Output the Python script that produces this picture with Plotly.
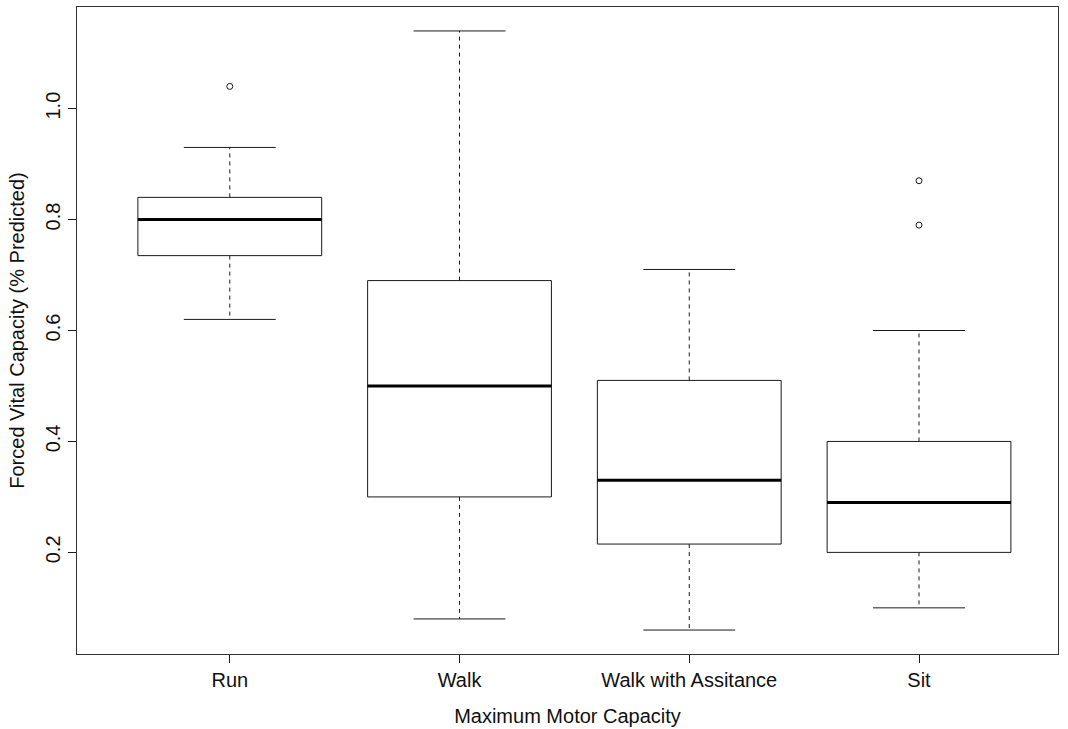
import plotly.graph_objects as go

# Summary statistics per motor-capacity group
groups = ["Run", "Walk", "Walk with Assitance", "Sit"]
lower_whisker = [0.62, 0.08, 0.06, 0.10]
q1 = [0.735, 0.30, 0.215, 0.20]
median = [0.80, 0.50, 0.33, 0.29]
q3 = [0.84, 0.69, 0.51, 0.40]
upper_whisker = [0.93, 1.14, 0.71, 0.60]
outliers = [[1.04], [], [], [0.87, 0.79]]
y_ticks = [0.2, 0.4, 0.6, 0.8, 1.0]

BOX_HALF = 0.4     # half box width (category units)
CAP_HALF = 0.2     # half staple width
INK = "#1a1a1a"
FONT = "Liberation Sans, Arial, sans-serif"

positions = list(range(1, len(groups) + 1))

box_x, box_y = [], []
med_x, med_y = [], []
whisk_x, whisk_y = [], []
cap_x, cap_y = [], []
out_x, out_y = [], []

for p, lw, a, m, b, uw, outs in zip(positions, lower_whisker, q1, median, q3,
                                     upper_whisker, outliers):
    box_x += [p - BOX_HALF, p + BOX_HALF, p + BOX_HALF, p - BOX_HALF, p - BOX_HALF, None]
    box_y += [a, a, b, b, a, None]
    med_x += [p - BOX_HALF, p + BOX_HALF, None]
    med_y += [m, m, None]
    whisk_x += [p, p, None, p, p, None]
    whisk_y += [b, uw, None, a, lw, None]
    cap_x += [p - CAP_HALF, p + CAP_HALF, None, p - CAP_HALF, p + CAP_HALF, None]
    cap_y += [uw, uw, None, lw, lw, None]
    for o in outs:
        out_x.append(p)
        out_y.append(o)

fig = go.Figure()
fig.add_trace(go.Scatter(x=whisk_x, y=whisk_y, mode="lines",
                         line=dict(color=INK, width=1, dash="4px,4px")))
fig.add_trace(go.Scatter(x=cap_x, y=cap_y, mode="lines",
                         line=dict(color=INK, width=1)))
fig.add_trace(go.Scatter(x=box_x, y=box_y, mode="lines",
                         line=dict(color=INK, width=1)))
fig.add_trace(go.Scatter(x=med_x, y=med_y, mode="lines",
                         line=dict(color="#000000", width=3)))
fig.add_trace(go.Scatter(x=out_x, y=out_y, mode="markers",
                         marker=dict(symbol="circle-open", size=6,
                                     color=INK, line=dict(width=1))))

tick_font = dict(family=FONT, size=20, color="#111111")
title_font = dict(family=FONT, size=20, color="#111111")

fig.update_layout(
    width=1068, height=729,
    margin=dict(l=77, r=10, t=6, b=73),
    paper_bgcolor="white", plot_bgcolor="white",
    showlegend=False,
    font=dict(family=FONT, size=20, color="#111111"),
)
fig.update_xaxes(
    range=[0.335, 4.605],
    tickmode="array", tickvals=positions, ticktext=groups,
    tickfont=tick_font,
    ticks="outside", ticklen=8, tickcolor=INK, tickwidth=1,
    showline=True, mirror=True, linecolor="#333333", linewidth=1,
    showgrid=False, zeroline=False,
    title=dict(text="Maximum Motor Capacity", standoff=18, font=title_font),
)
fig.update_yaxes(
    range=[0.0168, 1.1832],
    tickmode="array", tickvals=y_ticks, ticktext=[f"{v:.1f}" for v in y_ticks],
    tickangle=-90, tickfont=tick_font,
    ticks="outside", ticklen=8, tickcolor=INK, tickwidth=1,
    showline=True, mirror=True, linecolor="#333333", linewidth=1,
    showgrid=False, zeroline=False,
    title=dict(text="Forced Vital Capacity (% Predicted)", standoff=12, font=title_font),
)

fig.write_html("out.html")
